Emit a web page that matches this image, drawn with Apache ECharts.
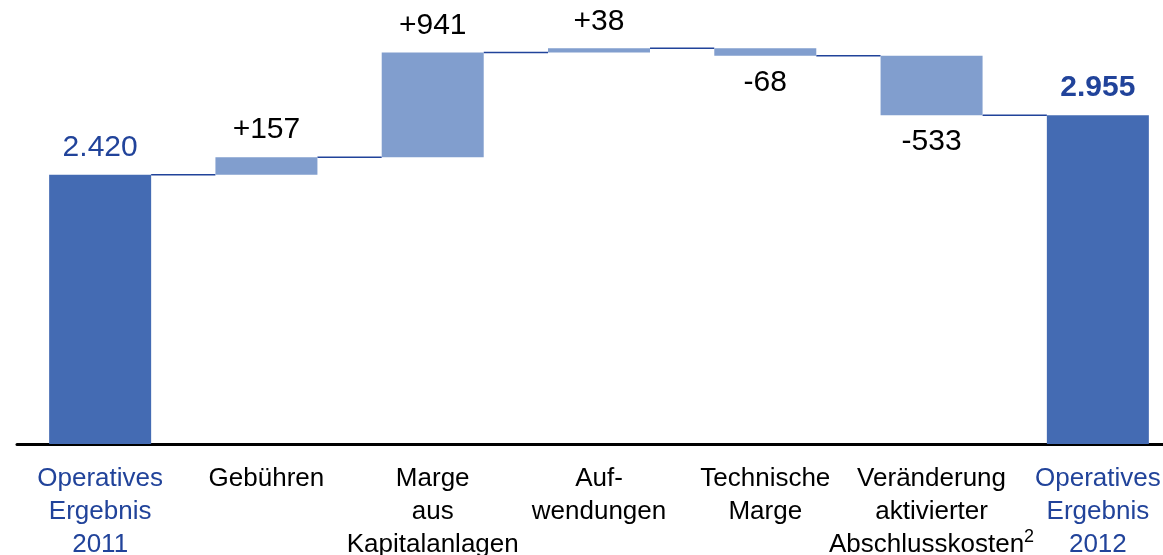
<!DOCTYPE html>
<html>
<head>
<meta charset="utf-8">
<script src="https://cdn.jsdelivr.net/npm/echarts@6/dist/echarts.min.js"></script>
<style>
  html, body { margin: 0; padding: 0; background: #fff; }
  #chart { width: 1163px; height: 555px; }
</style>
</head>
<body>
<div id="chart"></div>
<script>
// Kategorien und Werte (Wasserfall)
const categories = [
  'Operatives\nErgebnis\n2011',
  'Gebühren',
  'Marge\naus\nKapitalanlagen',
  'Auf-\nwendungen',
  'Technische\nMarge',
  'Veränderung\naktivierter\nAbschlusskosten{sup|2}',
  'Operatives\nErgebnis\n2012'
]
const changes = [2420, 157, 941, 38, -68, -533, 2955]
const isTotal = [true, false, false, false, false, false, true]

const totalColor = '#446BB3'
const deltaColor = '#819ECE'
const darkBlue = '#21439A'
const barWidth = 102

// Basis und Balkenhöhe aus den Werten ableiten
const baseData = []
const barData = []
const levels = []
let running = 0
changes.forEach((v, i) => {
  if (isTotal[i]) {
    running = v
    baseData.push(0)
    barData.push({
      value: v,
      itemStyle: { color: totalColor },
      label: { color: darkBlue, fontWeight: i === changes.length - 1 ? 'bold' : 'normal' }
    })
  } else {
    const start = running
    running = running + v
    baseData.push(Math.min(start, running))
    barData.push({
      value: Math.abs(v),
      itemStyle: { color: deltaColor },
      label: { position: v < 0 ? 'bottom' : 'top' }
    })
  }
  levels.push(running)
})

const connectorData = levels.slice(0, -1).map((l, i) => [i, l])

function fmtTotal (v) {
  return String(v).replace(/\B(?=(\d{3})+(?!\d))/g, '.')
}

const chart = echarts.init(document.getElementById('chart'))
chart.setOption({
  animation: false,
  grid: { left: 17, top: 10, width: 1164, height: 434, containLabel: false, outerBoundsMode: 'none' },
  xAxis: {
    type: 'category',
    data: categories,
    axisLine: { lineStyle: { color: '#000', width: 3 } },
    axisTick: { show: false },
    axisLabel: {
      interval: 0,
      margin: 18,
      fontFamily: 'Liberation Sans',
      fontSize: 26,
      lineHeight: 33,
      color: function (value, index) {
        return isTotal[index] ? darkBlue : '#000'
      },
      rich: {
        sup: { fontSize: 18, verticalAlign: 'top', padding: [0, 0, 10, 0], color: '#000', fontFamily: 'Liberation Sans' }
      }
    }
  },
  yAxis: {
    type: 'value',
    min: 0,
    max: 3900,
    show: false,
    splitLine: { show: false }
  },
  series: [
    {
      type: 'bar',
      stack: 'wf',
      barWidth: barWidth,
      itemStyle: { color: 'transparent' },
      data: baseData,
      silent: true
    },
    {
      type: 'bar',
      stack: 'wf',
      barWidth: barWidth,
      data: barData,
      z: 3,
      label: {
        show: true,
        position: 'top',
        distance: 12,
        fontFamily: 'Liberation Sans',
        fontSize: 30,
        color: '#000',
        formatter: function (p) {
          const v = changes[p.dataIndex]
          if (isTotal[p.dataIndex]) return fmtTotal(v)
          return (v > 0 ? '+' : '') + v
        }
      }
    },
    {
      type: 'custom',
      z: 2,
      data: connectorData,
      renderItem: function (params, api) {
        const p1 = api.coord([api.value(0), api.value(1)])
        const p2 = api.coord([api.value(0) + 1, api.value(1)])
        return {
          type: 'line',
          shape: { x1: p1[0] + barWidth / 2, y1: p1[1], x2: p2[0] - barWidth / 2, y2: p1[1] },
          style: { stroke: darkBlue, lineWidth: 1.5 }
        }
      }
    }
  ]
})
</script>
</body>
</html>
